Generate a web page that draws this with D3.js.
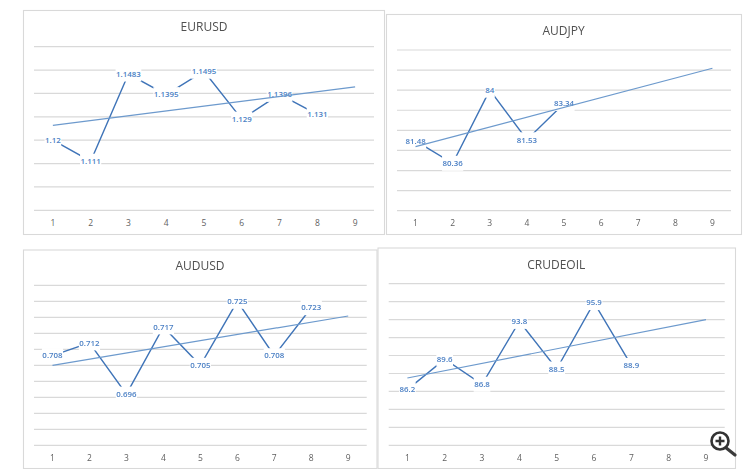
<!DOCTYPE html>
<html><head><meta charset="utf-8">
<script src="https://cdn.jsdelivr.net/npm/d3@7"></script>
<style>html,body{margin:0;padding:0;background:#fff}svg{display:block;filter:blur(.4px)}</style>
</head><body><svg id="c" width="750" height="469"></svg>
<script>
const categories = [1,2,3,4,5,6,7,8,9];

const eurusdValues = [1.12,1.111,1.1483,1.1395,1.1495,1.129,1.1396,1.131];
const eurusdTicks = [1.09,1.10,1.11,1.12,1.13,1.14,1.15,1.16];
const eurusdTrend = [1.1263,1.1428];

const audjpyValues = [81.48,80.36,84,81.53,83.34];
const audjpyTicks = [78,79,80,81,82,83,84,85,86];
const audjpyTrend = [81.19,85.09];

const audusdValues = [0.708,0.712,0.696,0.717,0.705,0.725,0.708,0.723];
const audusdTicks = [0.68,0.685,0.69,0.695,0.70,0.705,0.71,0.715,0.72,0.725,0.73];
const audusdTrend = [0.705,0.7204];

const crudeValues = [86.2,89.6,86.8,93.8,88.5,95.9,88.9];
const crudeTicks = [80,82,84,86,88,90,92,94,96,98];
const crudeTrend = [87.5,94];

const panels = [
 {name:"EURUSD", values:eurusdValues, ticks:eurusdTicks, trend:eurusdTrend,
  frame:[23.5,10.5,384.5,234.5], plot:[34,374,210.3,46.7], titleXY:[204,27], axisY:223},
 {name:"AUDJPY", values:audjpyValues, ticks:audjpyTicks, trend:audjpyTrend,
  frame:[386.5,14.5,741.5,234.5], plot:[397,731,210.7,50], titleXY:[563.5,30.5], axisY:223},
 {name:"AUDUSD", values:audusdValues, ticks:audusdTicks, trend:audusdTrend,
  frame:[23.5,250,377,468.5], plot:[34,366.7,445.3,285.3], titleXY:[200,266], axisY:458},
 {name:"CRUDEOIL", values:crudeValues, ticks:crudeTicks, trend:crudeTrend,
  frame:[378,248,735.5,468.5], plot:[388.7,724.7,445.3,283.7], titleXY:[556.3,264.5], axisY:458}
];

const svg = d3.select("#c");
const blue = "#3f74b8", trendBlue = "#6d9acd", labelBlue = "#4a7fc4", font = "'Open Sans',Roboto,sans-serif";

panels.forEach(p => {
  const g = svg.append("g");
  const [fx0,fy0,fx1,fy1] = p.frame, [px0,px1,py0,py1] = p.plot;
  g.append("rect").attr("x",fx0).attr("y",fy0).attr("width",fx1-fx0).attr("height",fy1-fy0)
    .attr("fill","#fff").attr("stroke","#d9d9d9").attr("stroke-width",1.1);
  const x = d3.scaleBand().domain(categories).range([px0,px1]);
  const cx = c => x(c) + x.bandwidth()/2;
  const y = d3.scaleLinear().domain(d3.extent(p.ticks)).range([py0,py1]);

  g.append("g").selectAll("line").data(p.ticks).join("line")
    .attr("x1",px0).attr("x2",px1).attr("y1",d=>y(d)).attr("y2",d=>y(d))
    .attr("stroke","#d9d9d9").attr("stroke-width",1.2);

  const axis = d3.axisBottom(x).tickSize(0).tickPadding(0);
  const ax = g.append("g").attr("transform",`translate(0,${p.axisY-4})`).call(axis);
  ax.select(".domain").remove();
  ax.selectAll("text").attr("dy",0).attr("y",7).attr("fill","#5f5f5f").attr("font-size",8.5).attr("font-family",font);

  const pts = p.values.map((v,i)=>({c:categories[i],v}));
  g.append("path").datum(pts).attr("fill","none").attr("stroke",blue).attr("stroke-width",1.4)
    .attr("d",d3.line().x(d=>cx(d.c)).y(d=>y(d.v)));

  const lab = g.append("g").selectAll("g").data(pts).join("g")
    .attr("transform",d=>`translate(${cx(d.c)},${y(d.v)})`);
  lab.append("rect").attr("fill","#fff");
  lab.append("text").text(d=>d.v).attr("text-anchor","middle").attr("dy","0.35em")
    .attr("fill",labelBlue).attr("font-size",7.9).attr("font-weight",600).attr("font-family",font);
  lab.each(function(){
    const t = d3.select(this).select("text").node().getComputedTextLength();
    d3.select(this).select("rect").attr("x",-t/2-0.5).attr("width",t+1).attr("y",-7.5).attr("height",15);
  });

  g.append("line")
    .attr("x1",cx(categories[0])).attr("y1",y(p.trend[0]))
    .attr("x2",cx(categories[categories.length-1])).attr("y2",y(p.trend[1]))
    .attr("stroke",trendBlue).attr("stroke-width",1.2);

  g.append("text").text(p.name).attr("x",p.titleXY[0]).attr("y",p.titleXY[1])
    .attr("text-anchor","middle").attr("dy","0.35em").attr("fill","#505050")
    .attr("font-size",12).attr("font-family",font);
});

// viewer's zoom icon in the lower right corner
const icon = svg.append("g");
icon.append("line").attr("x1",725).attr("y1",447).attr("x2",735).attr("y2",455)
  .attr("stroke","#3a3a3a").attr("stroke-width",3.2).attr("stroke-linecap","round");
icon.append("circle").attr("cx",720).attr("cy",441).attr("r",8.5).attr("fill","#fff").attr("stroke","#333").attr("stroke-width",2.6);
icon.append("path").attr("d","M715.5 441H724.5M720 436.5V445.5").attr("stroke","#333").attr("stroke-width",2.4);
</script></body></html>
